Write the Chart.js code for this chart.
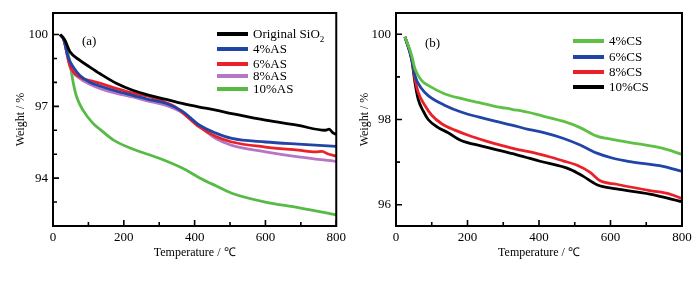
<!DOCTYPE html>
<html>
<head>
<meta charset="utf-8">
<script src="https://cdn.jsdelivr.net/npm/chart.js@4/dist/chart.umd.min.js"></script>
<style>
  body { margin: 0; background: #fff; }
  .row { display: flex; width: 700px; height: 281px; }
  .panel { position: relative; width: 350px; height: 281px; }
  .legend { position: absolute; font: 13px "Liberation Serif", serif; color: #000; }
  .legend div { position: absolute; white-space: nowrap; line-height: 14px; }
  .legend span.sw { position: absolute; left: 0; top: 5px; width: 31px; height: 4px; }
  .legend span.tx { position: absolute; left: 36px; top: 0; }
  .tag { position: absolute; font: 13px "Liberation Serif", serif; }
</style>
</head>
<body>
<div class="row">
  <div class="panel">
    <canvas id="chartA" width="350" height="281"></canvas>
    <div class="tag" style="left:82px; top:33px">(a)</div>
    <div class="legend" id="legendA" style="left:217px; top:0"></div>
  </div>
  <div class="panel">
    <canvas id="chartB" width="350" height="281"></canvas>
    <div class="tag" style="left:75px; top:35px">(b)</div>
    <div class="legend" id="legendB" style="left:223px; top:0"></div>
  </div>
</div>
<script>
// (a) AS samples
const sio2T = [20, 34, 48, 76, 104, 132, 180, 225, 272, 320, 365, 410, 460, 505, 600, 693, 769, 780, 790, 800];
const sio2W = [100, 99.75, 99.28, 98.92, 98.64, 98.37, 97.95, 97.67, 97.46, 97.29, 97.12, 96.98, 96.84, 96.7, 96.42, 96.2, 96.0, 96.05, 95.9, 95.83];

const as4T = [20, 30, 43, 57, 76, 104, 132, 180, 225, 272, 320, 365, 413, 460, 505, 600, 693, 800];
const as4W = [100, 99.8, 99.05, 98.64, 98.29, 98.01, 97.85, 97.63, 97.46, 97.28, 97.12, 96.8, 96.22, 95.88, 95.66, 95.51, 95.42, 95.33];

const as6T = [20, 30, 48, 76, 104, 132, 180, 225, 272, 320, 345, 365, 413, 460, 505, 600, 693, 741, 760, 775, 800];
const as6W = [100, 99.8, 98.7, 98.22, 98.08, 97.97, 97.74, 97.55, 97.42, 97.15, 96.98, 96.75, 96.14, 95.74, 95.51, 95.3, 95.17, 95.1, 95.12, 95.02, 94.92];

const as8T = [20, 30, 48, 76, 104, 132, 180, 225, 272, 320, 365, 407, 460, 505, 600, 693, 800];
const as8W = [100, 99.8, 98.64, 98.17, 97.92, 97.75, 97.54, 97.39, 97.21, 97.04, 96.74, 96.25, 95.65, 95.37, 95.1, 94.89, 94.7];

const as10T = [20, 30, 39, 48, 57, 67, 85, 113, 132, 170, 225, 300, 365, 413, 460, 505, 600, 693, 800];
const as10W = [100, 99.85, 99.47, 98.79, 98.0, 97.39, 96.83, 96.29, 96.05, 95.6, 95.22, 94.83, 94.42, 94.02, 93.68, 93.37, 93.0, 92.77, 92.46];

// (b) CS samples
const cs4T = [25, 44, 53, 72, 90, 137, 184, 230, 277, 324, 370, 411, 467, 515, 562, 607, 655, 747, 800];
const cs4W = [99.94, 99.5, 99.19, 98.91, 98.8, 98.6, 98.49, 98.4, 98.31, 98.24, 98.17, 98.08, 97.96, 97.81, 97.61, 97.53, 97.46, 97.32, 97.18];

const cs6T = [25, 44, 53, 72, 90, 137, 184, 230, 277, 324, 370, 411, 467, 515, 562, 607, 655, 747, 800];
const cs6W = [99.94, 99.42, 99.03, 98.72, 98.56, 98.33, 98.17, 98.06, 97.96, 97.87, 97.77, 97.7, 97.56, 97.4, 97.21, 97.09, 97.01, 96.9, 96.78];

const cs8T = [25, 44, 53, 62, 81, 100, 128, 165, 202, 250, 300, 338, 375, 431, 467, 505, 543, 571, 617, 710, 766, 800];
const cs8W = [99.94, 99.45, 98.95, 98.64, 98.33, 98.1, 97.9, 97.75, 97.63, 97.5, 97.38, 97.3, 97.24, 97.12, 97.03, 96.93, 96.76, 96.56, 96.48, 96.33, 96.25, 96.14];

const cs10T = [25, 44, 53, 62, 76, 90, 118, 146, 179, 243, 338, 403, 487, 523, 562, 617, 710, 800];
const cs10W = [99.94, 99.4, 98.87, 98.48, 98.2, 98.0, 97.81, 97.69, 97.52, 97.37, 97.17, 97.02, 96.83, 96.67, 96.47, 96.37, 96.25, 96.07];

const xTicks = [0, 200, 400, 600, 800];
const xMinor = [100, 300, 500, 700];
const yTicksA = [94, 97, 100];
const yMinorA = [93, 95, 96, 98, 99];
const yTicksB = [96, 98, 100];
const yMinorB = [97, 99];

const serif = "'Liberation Serif', 'Times New Roman', serif";

function pts(t, w) {
  return t.map((v, i) => ({ x: v, y: w[i] }));
}

function series(label, t, w, color) {
  return {
    label: label,
    data: pts(t, w),
    borderColor: color,
    backgroundColor: color,
    borderWidth: 2.8,
    pointRadius: 0,
    cubicInterpolationMode: "monotone",
  };
}

// frame + inward ticks
const framePlugin = {
  id: "frame",
  afterDraw(chart, args, opts) {
    const { ctx, chartArea: a } = chart;
    const x = chart.scales.x;
    const y = chart.scales.y;
    ctx.save();
    ctx.strokeStyle = "#000";
    ctx.lineWidth = 1.6;
    ctx.beginPath();
    xTicks.forEach((v) => { const p = x.getPixelForValue(v); ctx.moveTo(p, a.bottom); ctx.lineTo(p, a.bottom - 6); });
    xMinor.forEach((v) => { const p = x.getPixelForValue(v); ctx.moveTo(p, a.bottom); ctx.lineTo(p, a.bottom - 4); });
    opts.major.forEach((v) => { const p = y.getPixelForValue(v); ctx.moveTo(a.left, p); ctx.lineTo(a.left + 6, p); });
    opts.minor.forEach((v) => { const p = y.getPixelForValue(v); ctx.moveTo(a.left, p); ctx.lineTo(a.left + 4, p); });
    ctx.stroke();
    ctx.lineWidth = 2;
    ctx.strokeRect(a.left, a.top, a.right - a.left, a.bottom - a.top);
    ctx.restore();
  },
};

function makeChart(id, datasets, yMin, yMax, yTicks, yMinor, yWidth, padRight, yTitlePad) {
  return new Chart(document.getElementById(id), {
    type: "line",
    data: { datasets: datasets },
    options: {
      responsive: false,
      animation: false,
      layout: { padding: { top: 13, right: padRight, left: 0, bottom: 0 } },
      plugins: {
        legend: { display: false },
        tooltip: { enabled: false },
        frame: { major: yTicks, minor: yMinor },
      },
      scales: {
        x: {
          type: "linear",
          min: 0,
          max: 800,
          grid: { display: false, drawTicks: false },
          border: { display: false },
          afterBuildTicks: (s) => { s.ticks = xTicks.map((v) => ({ value: v })); },
          afterFit: (s) => { s.height = 55; },
          ticks: { color: "#000", padding: 4, maxRotation: 0, font: { family: serif, size: 13 } },
          title: {
            display: true,
            text: "Temperature / ℃",
            color: "#000",
            font: { family: serif, size: 12 },
            padding: { top: 0, bottom: 21 },
          },
        },
        y: {
          type: "linear",
          min: yMin,
          max: yMax,
          grid: { display: false, drawTicks: false },
          border: { display: false },
          afterBuildTicks: (s) => { s.ticks = yTicks.map((v) => ({ value: v })); },
          afterFit: (s) => { s.width = yWidth; },
          ticks: { color: "#000", padding: 5, font: { family: serif, size: 13 } },
          title: {
            display: true,
            text: "Weight / %",
            color: "#000",
            font: { family: serif, size: 12 },
            padding: { top: yTitlePad, bottom: 0 },
          },
        },
      },
    },
    plugins: [framePlugin],
  });
}

const chartA = makeChart("chartA", [
  series("Original SiO2", sio2T, sio2W, "#000000"),
  series("4%AS", as4T, as4W, "#2145a6"),
  series("6%AS", as6T, as6W, "#ea2128"),
  series("8%AS", as8T, as8W, "#b676c6"),
  series("10%AS", as10T, as10W, "#55bb45"),
], 92, 100.9, yTicksA, yMinorA, 53, 12, 14);

const chartB = makeChart("chartB", [
  series("4%CS", cs4T, cs4W, "#5fc046"),
  series("6%CS", cs6T, cs6W, "#2145a6"),
  series("8%CS", cs8T, cs8W, "#ea2128"),
  series("10%CS", cs10T, cs10W, "#000000"),
], 95.5, 100.5, yTicksB, yMinorB, 46, 18, 8);

// html legend from datasets
function buildLegend(chart, elId, rows) {
  const el = document.getElementById(elId);
  el.innerHTML = "";
  chart.data.datasets.forEach((ds, i) => {
    const label = ds.label.replace("SiO2", "SiO<sub style='font-size:9px'>2</sub>");
    el.innerHTML += `<div style="top:${rows[i] - 7}px"><span class="sw" style="background:${ds.borderColor}"></span><span class="tx">${label}</span></div>`;
  });
}

buildLegend(chartA, "legendA", [34, 49, 64, 76, 89]);
buildLegend(chartB, "legendB", [41, 57, 72, 87]);
</script>
</body>
</html>
